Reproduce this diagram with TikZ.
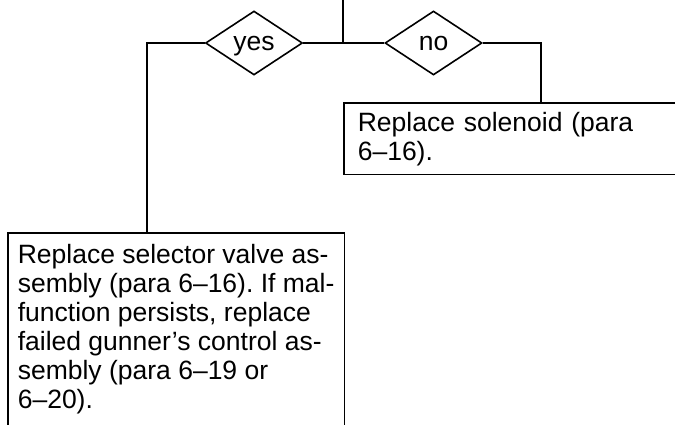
\documentclass[tikz,border=0pt]{standalone}
\usepackage{fontspec}
\setmainfont{Liberation Sans}
\usetikzlibrary{positioning,shapes.geometric}
\definecolor{flline}{HTML}{000000}
\frenchspacing

\begin{document}
\begin{tikzpicture}[x=1pt,y=-1pt,line width=1.6pt,
    decision/.style={draw=flline,diamond,aspect=1.5,minimum width=97pt,minimum height=64pt,inner sep=0pt,
      text depth=0pt,font=\fontsize{26.5}{29}\selectfont},
    actbox/.style={draw=flline,anchor=north west,align=left,inner xsep=14pt,inner ysep=11pt,
      font=\fontsize{26.5}{29}\selectfont}]
    \useasboundingbox (0,0) rectangle (675,425);
    \clip (0,0) rectangle (675,425);
    \coordinate (top) at (343,0);
    \coordinate (junc) at (343,43);
    \node[decision] (yes) at (254,43) {yes};
    \node[decision] (no) at (433.5,43) {no};
    \node[actbox,text width=360pt,inner ysep=9pt] (replsol) at (343,102)
      {Replace solenoid (para\\6–16).};
    \node[actbox,inner xsep=10pt,text depth=200pt] (replsel) at (7,232)
      {Replace selector valve as-\\sembly (para 6–16). If mal-\\function persists, replace\\failed gunner’s control as-\\sembly (para 6–19 or\\6–20).};
    \draw[flline] (top) -- (junc);
    \draw[flline] (yes.east) -- (no.west);
    \draw[flline] (yes.west) -| ([xshift=140pt]replsel.north west);
    \draw[flline] (no.east) -| ([xshift=198pt]replsol.north west);
  \end{tikzpicture}
\end{document}
